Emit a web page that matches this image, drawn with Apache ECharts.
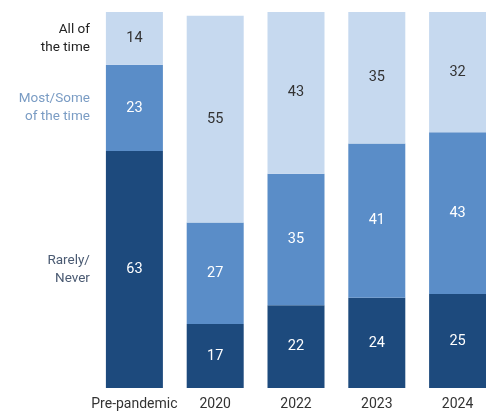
<!DOCTYPE html>
<html>
<head>
<meta charset="utf-8">
<script src="https://cdn.jsdelivr.net/npm/echarts@6/dist/echarts.min.js"></script>
<style>
  html, body { margin: 0; padding: 0; background: #fff; overflow: hidden; }
  /* the last bar is cut off at the right edge in the original, so the chart is a bit wider than the window */
  #main { width: 498px; height: 411px; }
</style>
</head>
<body>
<div id="main"></div>
<script>
// categories along the bottom
var categories = ['Pre-pandemic', '2020', '2022', '2023', '2024'];
// share of respondents, bottom to top
var rarelyNever = [63, 17, 22, 24, 25];
var mostSome = [23, 27, 35, 41, 43];
var allTime = [14, 55, 43, 35, 32];

var dom = document.getElementById('main');
var myChart = echarts.init(dom);
var font = 'Roboto, "Liberation Sans", sans-serif';

function valueSeries(name, data, color, textColor) {
    return {
        name: name,
        type: 'bar',
        stack: 'total',
        barWidth: 57,
        barGap: '-100%',
        data: data,
        itemStyle: { color: color },
        label: {
            show: true,
            position: 'inside',
            color: textColor,
            fontFamily: font,
            fontSize: 14.5
        },
        emphasis: { disabled: true },
        animation: false
    };
}

// invisible copy of each series, only used to put the series name left of the first bar
function nameSeries(name, data, textColor) {
    return {
        name: name + ' label',
        type: 'bar',
        stack: 'names',
        barWidth: 57,
        barGap: '-100%',
        data: data.map(function (v, i) {
            return i === 0 ? {
                value: v,
                label: {
                    show: true,
                    position: 'left',
                    distance: 16,
                    align: 'right',
                    formatter: name,
                    color: textColor,
                    fontFamily: font,
                    fontSize: 13.5,
                    lineHeight: 18
                }
            } : v;
        }),
        itemStyle: { color: 'rgba(0,0,0,0)' },
        silent: true,
        animation: false
    };
}

var option = {
    backgroundColor: '#fff',
    grid: { left: 94, right: 0, top: 12, bottom: 23 },
    xAxis: {
        type: 'category',
        data: categories,
        axisLine: { show: false },
        axisTick: { show: false },
        axisLabel: {
            interval: 0,
            color: '#333',
            fontFamily: font,
            fontSize: 14,
            margin: 9
        }
    },
    yAxis: {
        type: 'value',
        min: 0,
        max: 100,
        show: false
    },
    series: [
        valueSeries('Rarely/Never', rarelyNever, '#1d4a7d', '#fff'),
        valueSeries('Most/Some of the time', mostSome, '#5a8dc8', '#fff'),
        valueSeries('All of the time', allTime, '#c6d9ef', '#333'),
        nameSeries('Rarely/\nNever', rarelyNever, '#4a5a72'),
        nameSeries('Most/Some\nof the time', mostSome, '#7a9cc4'),
        nameSeries('All of\nthe time', allTime, '#222')
    ]
};

myChart.setOption(option, true);
</script>
</body>
</html>
